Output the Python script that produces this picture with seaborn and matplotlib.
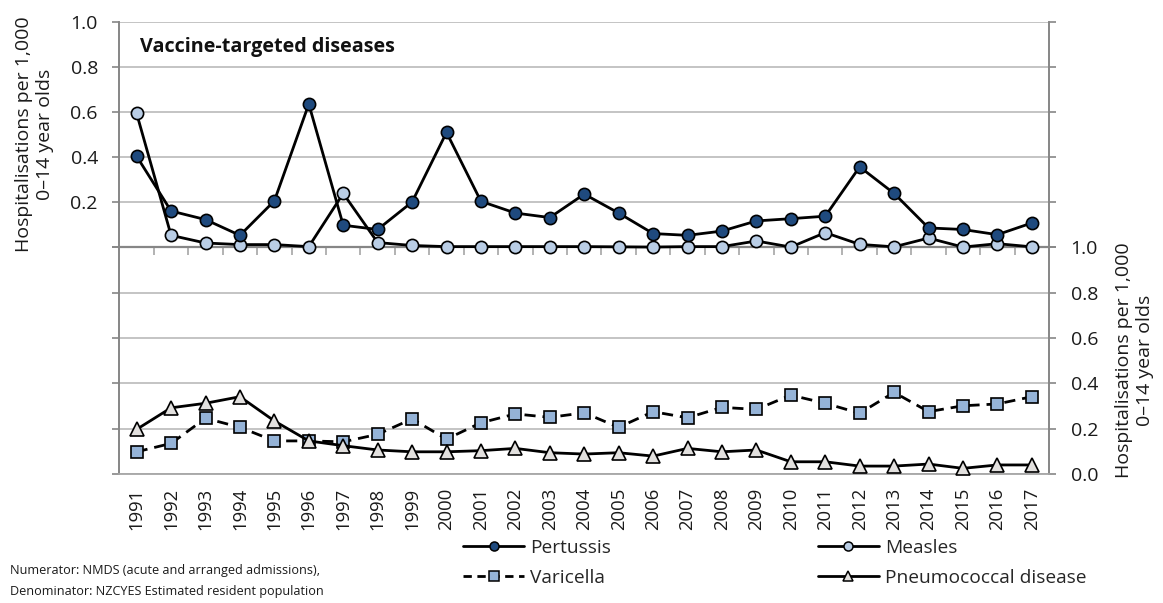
import numpy as np
import matplotlib
matplotlib.use("Agg")
import matplotlib.pyplot as plt
from matplotlib.lines import Line2D
import seaborn as sns

years = list(range(1991, 2018))

pertussis = [0.404, 0.161, 0.123, 0.053, 0.206, 0.636, 0.098, 0.079, 0.201, 0.510,
             0.204, 0.152, 0.132, 0.236, 0.152, 0.061, 0.053, 0.072, 0.117, 0.127,
             0.138, 0.357, 0.239, 0.086, 0.079, 0.056, 0.108]
measles = [0.594, 0.053, 0.019, 0.012, 0.012, 0.003, 0.239, 0.021, 0.008, 0.003,
           0.003, 0.003, 0.003, 0.003, 0.002, 0.001, 0.003, 0.003, 0.028, 0.001,
           0.065, 0.013, 0.002, 0.041, 0.001, 0.016, 0.002]
varicella = [0.098, 0.135, 0.246, 0.206, 0.146, 0.146, 0.142, 0.175, 0.243, 0.154,
             0.226, 0.265, 0.250, 0.270, 0.206, 0.275, 0.248, 0.294, 0.285, 0.348,
             0.312, 0.268, 0.360, 0.275, 0.301, 0.309, 0.341]
pneumococcal = [0.197, 0.292, 0.312, 0.341, 0.234, 0.146, 0.125, 0.106, 0.098, 0.098,
                0.103, 0.113, 0.094, 0.088, 0.094, 0.079, 0.113, 0.098, 0.106, 0.054,
                0.054, 0.035, 0.035, 0.044, 0.025, 0.040, 0.040]

y_ticks = [0.0, 0.2, 0.4, 0.6, 0.8, 1.0]
y_label = "Hospitalisations per 1,000\n0\u201314 year olds"
title = "Vaccine-targeted diseases"
footnote = ("Numerator: NMDS (acute and arranged admissions),\n"
            "Denominator: NZCYES Estimated resident population")

sns.set_style("white")
plt.rcParams["font.family"] = ["Open Sans", "DejaVu Sans"]

C_PERT = "#1F4A7E"
C_MEAS = "#B9CDE5"
C_VARI = "#95B3D7"
C_PNEU = "#E2E0DE"
SPINE = "#868686"
GRID = "#BFBFBF"
TEXT = "#1A1A1A"

fig = plt.figure(figsize=(11.63, 6.03), dpi=100)
ax_top = fig.add_axes([0.1027, 0.5899, 0.7993, 0.3736])
ax_bot = fig.add_axes([0.1027, 0.2139, 0.7993, 0.3760])

mk = dict(markersize=8.8, markeredgecolor="black", markeredgewidth=1.2,
          color="black", linewidth=2.0, clip_on=False)

sns.lineplot(x=years, y=pertussis, ax=ax_top, marker="o",
             markerfacecolor=C_PERT, zorder=4, **mk)
sns.lineplot(x=years, y=measles, ax=ax_top, marker="o",
             markerfacecolor=C_MEAS, zorder=3, **mk)
sns.lineplot(x=years, y=varicella, ax=ax_bot, marker="s",
             markerfacecolor=C_VARI, zorder=3, **dict(mk, markersize=9.3))
ax_bot.lines[-1].set_dashes([4, 2.5])
sns.lineplot(x=years, y=pneumococcal, ax=ax_bot, marker="^",
             markerfacecolor=C_PNEU, zorder=4, **dict(mk, markersize=10.5))

for ax in (ax_top, ax_bot):
    ax.set_xlim(years[0] - 0.5, years[-1] + 0.5)
    ax.set_ylim(0, 1)
    ax.set_yticks(y_ticks)
    ax.yaxis.grid(True, color=GRID, linewidth=1.3)
    ax.xaxis.grid(False)
    ax.set_axisbelow(True)
    for side in ("left", "right"):
        ax.spines[side].set_visible(True)
        ax.spines[side].set_color(SPINE)
        ax.spines[side].set_linewidth(1.4)
    ax.spines["top"].set_visible(False)
    ax.tick_params(axis="y", which="both", left=True, right=True, length=5,
                   width=1.2, color=SPINE, direction="out",
                   labelsize=14, labelcolor=TEXT, pad=10.5)
    ax.set_facecolor("white")

# upper panel: left-hand scale, boundary ticks on the shared middle line
ax_top.set_yticklabels(["", "0.2", "0.4", "0.6", "0.8", "1.0"])
ax_top.tick_params(axis="y", labelleft=True, labelright=False)
ax_top.spines["bottom"].set_color(SPINE)
ax_top.spines["bottom"].set_linewidth(1.6)
ax_top.set_xticks([y + 0.5 for y in years[:-1]])
ax_top.set_xticklabels([])
ax_top.tick_params(axis="x", bottom=True, length=6, width=1.2, color="#A6A6A6",
                   direction="out")
ax_top.set_ylabel(y_label, fontsize=14, color=TEXT, labelpad=12,
                  multialignment="center", linespacing=1.2)
ax_top.set_xlabel("")
ax_top.text(0.022, 0.888, title, transform=ax_top.transAxes, fontsize=14.2,
            fontweight="bold", va="center", ha="left", color="#111111")
ax_top.set_zorder(2)
ax_top.patch.set_alpha(0)

# lower panel: right-hand scale with year labels
ax_bot.set_yticklabels([f"{v:.1f}" for v in y_ticks])
ax_bot.tick_params(axis="y", labelleft=False, labelright=True)
ax_bot.spines["bottom"].set_color("#A6A6A6")
ax_bot.spines["bottom"].set_linewidth(1.3)
ax_bot.set_xticks(years)
ax_bot.set_xticklabels([str(y) for y in years], rotation=90, fontsize=13.3,
                       color=TEXT)
ax_bot.tick_params(axis="x", bottom=True, length=0, pad=10)
ax_bot.yaxis.set_label_position("right")
ax_bot.set_ylabel(y_label, fontsize=14, color=TEXT, labelpad=12,
                  rotation=90, multialignment="center", linespacing=1.2)
ax_bot.set_xlabel("")
ax_bot.set_zorder(1)

# legend
def handle(marker, face, ls="-", ms=6.5):
    return Line2D([], [], color="black", linewidth=2.0, linestyle=ls,
                  marker=marker, markersize=ms, markerfacecolor=face,
                  markeredgecolor="black", markeredgewidth=1.1)

h_pert = handle("o", C_PERT)
h_meas = handle("o", C_MEAS)
h_vari = handle("s", C_VARI, ls=(0, (3, 2)))
h_pneu = handle("^", C_PNEU)
fig.legend([h_pert, h_vari, h_meas, h_pneu],
           ["Pertussis", "Varicella", "Measles", "Pneumococcal disease"],
           ncol=2, loc="upper left", bbox_to_anchor=(0.398, 0.106),
           frameon=False, fontsize=13.8, handlelength=3.2, handletextpad=0.3,
           columnspacing=10.8, labelspacing=0.6, borderaxespad=0,
           borderpad=0)

fig.text(10 / 1163, 1 - 564 / 603, footnote, fontsize=9.1, va="top", ha="left",
         color=TEXT, linespacing=1.75)

fig.savefig("out.png", dpi=100)
